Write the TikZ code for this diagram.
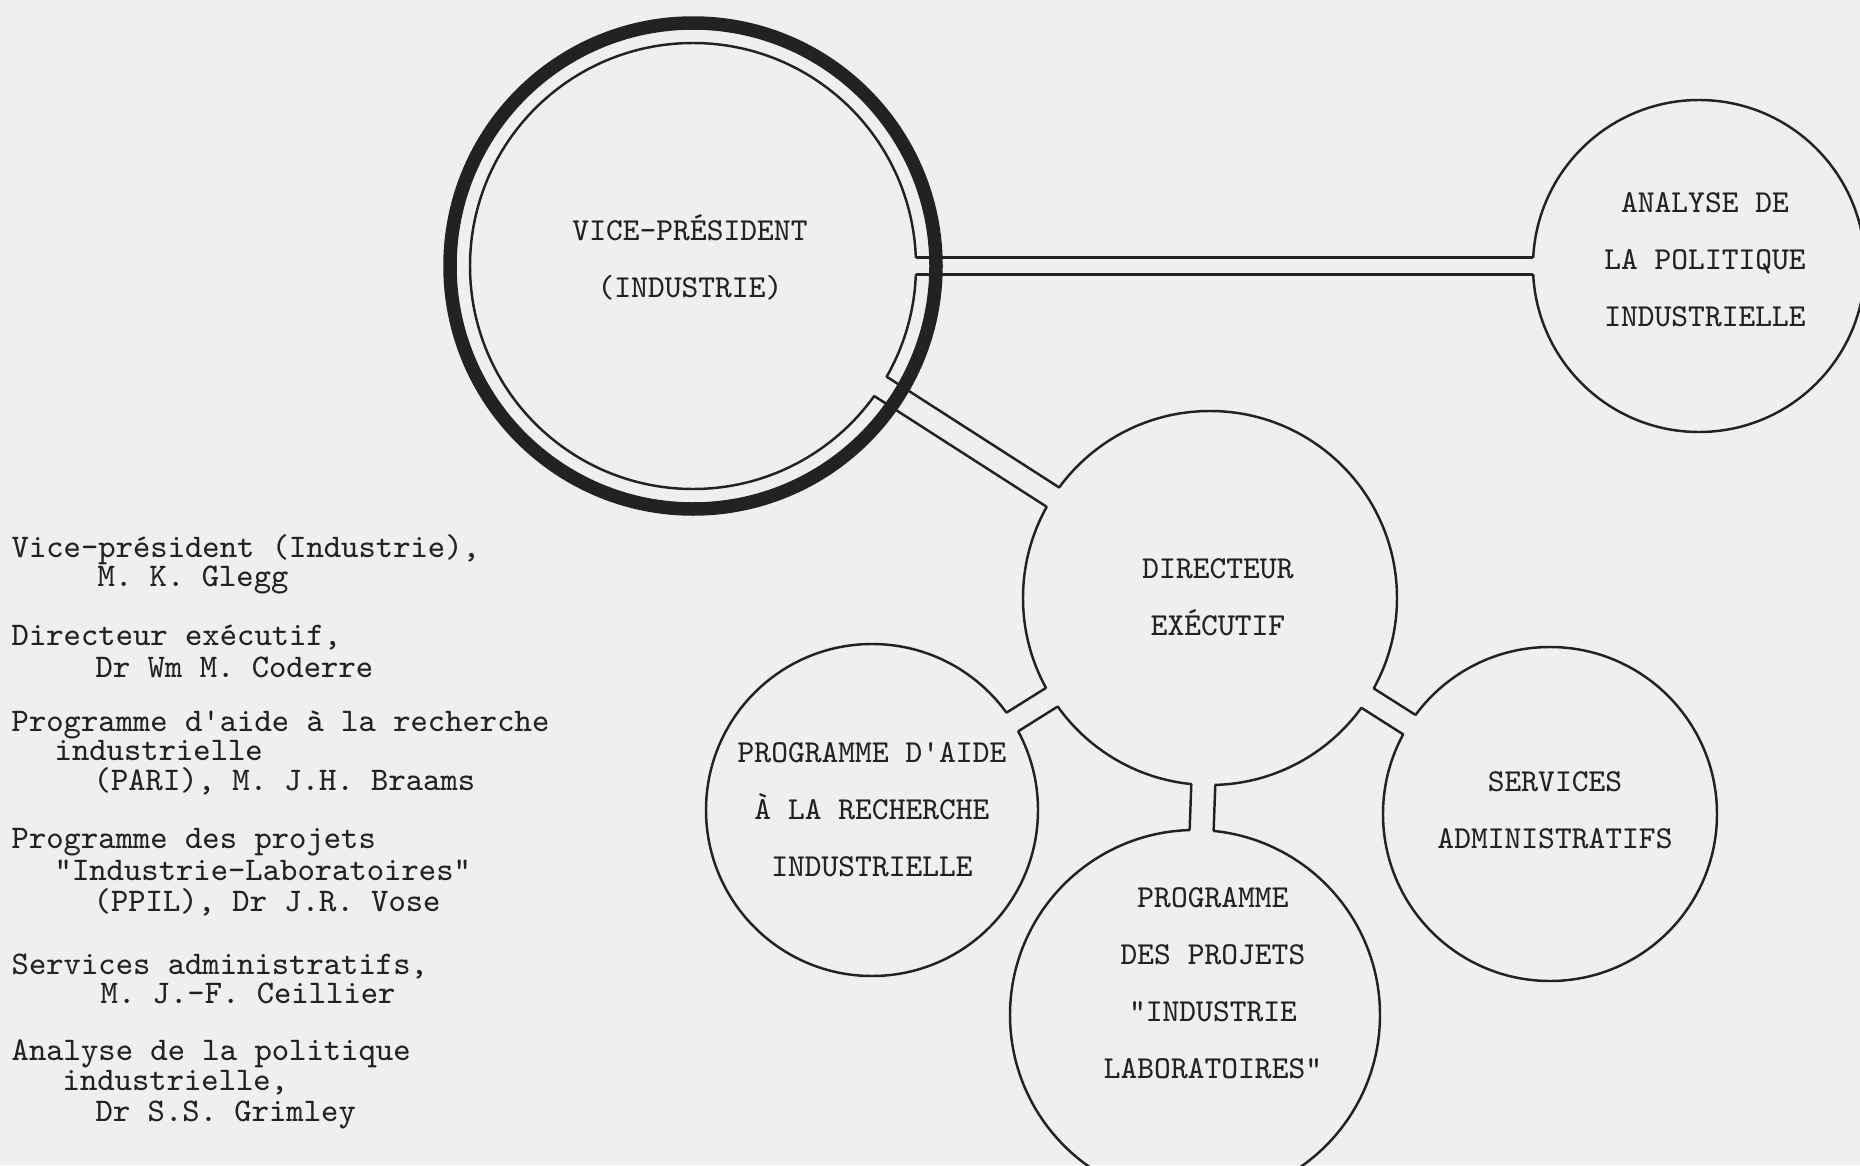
\documentclass[tikz,border=0pt]{standalone}
\usepackage{tikz}
\usetikzlibrary{calc,positioning}

\definecolor{paper}{HTML}{EFEFEF}
\definecolor{ink}{HTML}{222222}

\tikzset{
    hub/.style={circle, draw=ink, line width=0.7pt, inner sep=0pt, outer sep=0pt},
    caption/.style={align=center, text=ink, inner sep=0pt, font=\fontsize{9.1}{16.2}\selectfont\ttfamily},
    roster/.style={anchor=base west, inner sep=0pt, text=ink, text height=0.6em, text depth=0.2em, font=\fontsize{9.4}{10}\selectfont\ttfamily},
    side/.style={draw=ink, line width=0.7pt},
}

% double-line corridor between two circles: from, to, radius from, radius to, half width (px)
\newcommand{\passage}[5]{%
    \pgfmathsetmacro{\reachA}{sqrt((#3/10)^2-(#5/10)^2)}%
    \pgfmathsetmacro{\reachB}{sqrt((#4/10)^2-(#5/10)^2)}%
    \pgfmathsetmacro{\wid}{#5/10}%
    \pgfmathsetmacro{\bandw}{#5/5-0.12}%
    \coordinate (pa) at ($(#1.center)!\reachA mm!(#2.center)$);
    \coordinate (pb) at ($(#2.center)!\reachB mm!(#1.center)$);
    \draw[paper, line width=\bandw mm] ($(pa)!-0.5mm!(pb)$) -- ($(pb)!-0.5mm!(pa)$); % open the circles
    \draw[side] ($(pa)!\wid mm!90:(pb)$) -- ($(pb)!\wid mm!-90:(pa)$);
    \draw[side] ($(pa)!\wid mm!-90:(pb)$) -- ($(pb)!\wid mm!90:(pa)$);
}

\begin{document}
\begin{tikzpicture}[x=0.1mm, y=-0.1mm, on grid]
    \fill[paper] (0,0) rectangle (1860,1165); % page
    \useasboundingbox (0,0) rectangle (1860,1165);

    \node[hub, minimum size=44.6mm] (vp) at (693,266) {}; % vice-president, inner circle
    \node[hub, minimum size=33.2mm, right=100.6mm of vp] (ana) {}; % analyse de la politique
    \node[hub, minimum size=37.4mm, below right=33.2mm and 51.7mm of vp] (dir) {}; % directeur executif
    \node[hub, minimum size=33.2mm, below left=21.2mm and 33.8mm of dir] (aide) {}; % PARI
    \node[hub, minimum size=37mm, below left=41.7mm and 1.5mm of dir] (proj) {}; % PPIL
    \node[hub, minimum size=33.4mm, below right=21.6mm and 34mm of dir] (serv) {}; % services administratifs

    \passage{vp}{ana}{223}{166}{8.5}
    \passage{vp}{dir}{223}{187}{11.5}
    \passage{dir}{aide}{187}{166}{11}
    \passage{dir}{proj}{187}{185}{12}
    \passage{dir}{serv}{187}{167}{11.5}

    \draw[ink, line width=1.35mm] (vp.center) circle[radius=24.3mm]; % thick outer ring

    \node[caption] (vpname) at ([xshift=-0.3mm, yshift=0.9mm]vp.center) {VICE-PRÉSIDENT\\(INDUSTRIE)};
    \node[caption] (ananame) at ([xshift=0.6mm, yshift=0.6mm]ana.center) {ANALYSE DE\\LA POLITIQUE\\INDUSTRIELLE};
    \node[caption] (dirname) at ([xshift=0.8mm, yshift=0.1mm]dir.center) {DIRECTEUR\\EXÉCUTIF};
    \node[caption] (aidename) at (aide.center) {PROGRAMME D\textquotesingle AIDE\\À LA RECHERCHE\\INDUSTRIELLE};
    \node[caption] (projname) at ([xshift=1.8mm, yshift=3.2mm]proj.center) {PROGRAMME\\DES PROJETS\\"INDUSTRIE\\LABORATOIRES"};
    \node[caption] (servname) at ([xshift=0.5mm, yshift=0.4mm]serv.center) {SERVICES\\ADMINISTRATIFS};

    % list of heads
    \foreach \yy/\xx/\who [count=\k] in {
        557/11/{Vice-président (Industrie),},
        586.5/97/{M. K. Glegg},
        645/11/{Directeur exécutif,},
        677/95/{Dr Wm M. Coderre},
        731/11/{Programme d\textquotesingle aide à la recherche},
        760/54/{industrielle},
        790/93/{(PARI), M. J.H. Braams},
        848/11/{Programme des projets},
        880/54/{"Industrie-Laboratoires"},
        911/93/{(PPIL), Dr J.R. Vose},
        974/11/{Services administratifs,},
        1003/100/{M. J.-F. Ceillier},
        1060/11/{Analyse de la politique},
        1090/62/{industrielle,},
        1121/95/{Dr S.S. Grimley}}
        \node[roster] (who\k) at (\xx,\yy) {\who};
\end{tikzpicture}
\end{document}
